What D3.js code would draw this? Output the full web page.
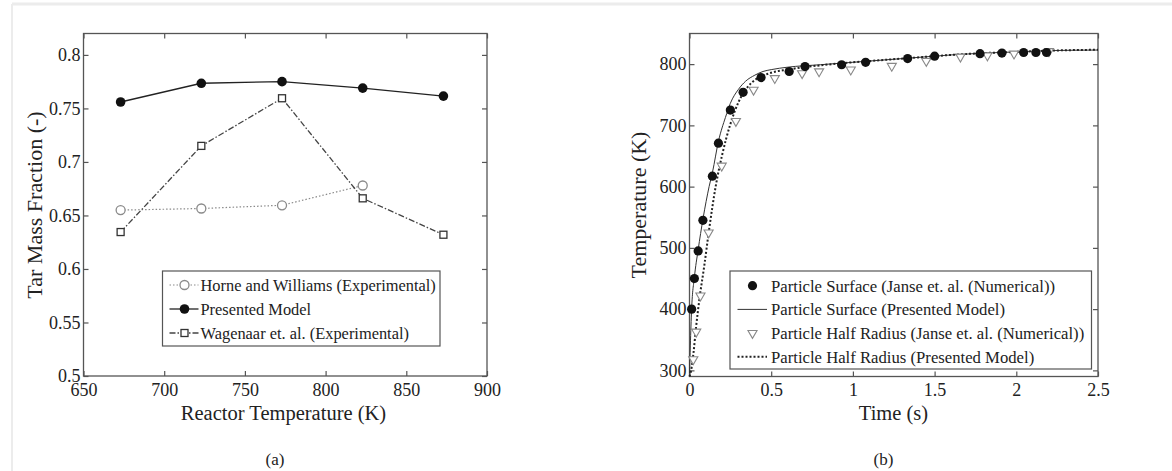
<!DOCTYPE html>
<head>
  <meta charset="utf-8" />
  <script src="https://d3js.org/d3.v7.min.js"></script>
  <style>
    body { margin: 0; background: #fff; }
    svg { display: block; }
    text { font-family: "Liberation Serif", "Times New Roman", serif; fill: #222; }
  </style>
</head>
<body>
<div id="fig"></div>
<script>

// ---- panel (a) data ----
var reactorTemps = [673, 723, 773, 823, 873];
var horneWilliams = [0.655, 0.6565, 0.6595, 0.678];
var presentedModel = [0.756, 0.7735, 0.775, 0.769, 0.7615];
var wagenaar = [0.6345, 0.715, 0.7595, 0.666, 0.632];
var aXTicks = [650, 700, 750, 800, 850, 900];
var aYTicks = [0.5, 0.55, 0.6, 0.65, 0.7, 0.75, 0.8];

// ---- panel (b) data ----
var surfJanseT = [0.013, 0.03, 0.053, 0.082, 0.14, 0.177, 0.25, 0.328, 0.438, 0.61, 0.707, 0.931, 1.078, 1.335, 1.5, 1.778, 1.912, 2.045, 2.12, 2.185];
var surfJanseK = [400, 450, 495, 545, 617, 671, 725, 754, 778, 788, 796, 799, 803, 809, 813, 817, 818, 819, 819, 819];
var halfJanseT = [0.023, 0.041, 0.067, 0.117, 0.197, 0.284, 0.392, 0.522, 0.689, 0.793, 0.987, 1.238, 1.449, 1.658, 1.823, 1.986, 2.2];
var halfJanseK = [318, 363, 422, 525, 634, 707, 758, 777, 785, 788, 791, 797, 805, 812, 814, 817, 821];
var surfModelT = [0, 0.005, 0.013, 0.03, 0.053, 0.083, 0.12, 0.141, 0.178, 0.22, 0.25, 0.3, 0.343, 0.4, 0.45, 0.5, 0.6, 0.8, 1.0, 1.2, 1.4, 1.6, 1.8, 2.0, 2.2, 2.5];
var surfModelK = [295, 340, 400, 452, 497, 548, 600, 624, 675, 713, 736, 759, 772, 782, 788, 791, 795, 799, 803, 807, 811, 815, 818, 820, 822, 823];
var halfModelT = [0, 0.01, 0.025, 0.04, 0.06, 0.09, 0.12, 0.16, 0.2, 0.25, 0.3, 0.36, 0.4, 0.45, 0.5, 0.6, 0.7, 0.8, 1.0, 1.2, 1.4, 1.6, 1.8, 2.0, 2.2, 2.5];
var halfModelK = [290, 300, 330, 370, 415, 470, 530, 600, 652, 702, 738, 764, 774, 781, 786, 791, 795, 798, 803, 807, 811, 815, 818, 820, 822, 823.5];
var bXTicks = [0, 0.5, 1, 1.5, 2, 2.5];
var bYTicks = [300, 400, 500, 600, 700, 800];

var W = 1172, H = 471;
var svg = d3.select("#fig").append("svg").attr("width", W).attr("height", H);

// faint scan frame
svg.append("line").attr("x1", 12).attr("x2", W).attr("y1", 4).attr("y2", 4)
  .attr("stroke", "#ececec").attr("stroke-width", 3);
svg.append("line").attr("x1", 12).attr("x2", 12).attr("y1", 4).attr("y2", H)
  .attr("stroke", "#ececec").attr("stroke-width", 2);

// draws box, inward ticks on all sides, tick labels
function drawFrame(x, y, xt, yt, fmtX, fmtY) {
  var g = svg.append("g");
  var x0 = x.range()[0], x1 = x.range()[1], y0 = y.range()[0], y1 = y.range()[1];
  var axes = [
    [d3.axisBottom(x).tickValues(xt).tickFormat(fmtX).tickPadding(7), "translate(0," + y0 + ")"],
    [d3.axisTop(x).tickValues(xt).tickFormat(""), "translate(0," + y1 + ")"],
    [d3.axisLeft(y).tickValues(yt).tickFormat(fmtY).tickPadding(3), "translate(" + x0 + ",0)"],
    [d3.axisRight(y).tickValues(yt).tickFormat(""), "translate(" + x1 + ",0)"]
  ];
  axes.forEach(function (a) {
    var ax = g.append("g").attr("transform", a[1])
      .call(a[0].tickSizeInner(-5).tickSizeOuter(0));
    ax.select(".domain").remove();
    ax.selectAll("line").attr("stroke", "#555").attr("stroke-width", 1.2);
    ax.selectAll("text").style("font-size", "18px").attr("fill", "#222")
      .style("font-family", '"Liberation Serif", "Times New Roman", serif');
  });
  g.append("rect").attr("x", x0).attr("y", y1).attr("width", x1 - x0).attr("height", y0 - y1)
    .attr("fill", "none").attr("stroke", "#555").attr("stroke-width", 1.3);
  return g;
}

function label(txt, x, y, size, rot) {
  var t = svg.append("text").attr("text-anchor", "middle").style("font-size", size + "px").text(txt);
  if (rot) t.attr("transform", "translate(" + x + "," + y + ") rotate(-90)");
  else t.attr("x", x).attr("y", y);
  return t;
}

// ===================== panel (a) =====================
var xa = d3.scaleLinear().domain([650, 900]).range([83.5, 487]);
var ya = d3.scaleLinear().domain([0.5, 0.82]).range([376, 33.5]);
drawFrame(xa, ya, aXTicks, aYTicks, d3.format("d"), function (d) { return +d.toFixed(2); });

var lineA = d3.line().x(function (d) { return xa(d[0]); }).y(function (d) { return ya(d[1]); });
var pa = svg.append("g");

var hwPts = horneWilliams.map(function (v, i) { return [reactorTemps[i], v]; });
var pmPts = presentedModel.map(function (v, i) { return [reactorTemps[i], v]; });
var wgPts = wagenaar.map(function (v, i) { return [reactorTemps[i], v]; });

pa.append("path").attr("d", lineA(hwPts)).attr("fill", "none").attr("stroke", "#8a8a8a")
  .attr("stroke-width", 1.2).attr("stroke-dasharray", "1.5,2");
pa.append("path").attr("d", lineA(pmPts)).attr("fill", "none").attr("stroke", "#222").attr("stroke-width", 1.3);
pa.append("path").attr("d", lineA(wgPts)).attr("fill", "none").attr("stroke", "#444")
  .attr("stroke-width", 1.3).attr("stroke-dasharray", "6,2,1.5,2");

pa.selectAll(".hw").data(hwPts).enter().append("circle")
  .attr("cx", function (d) { return xa(d[0]); }).attr("cy", function (d) { return ya(d[1]); })
  .attr("r", 4.5).attr("fill", "#fff").attr("stroke", "#8a8a8a").attr("stroke-width", 1.3);
pa.selectAll(".pm").data(pmPts).enter().append("circle")
  .attr("cx", function (d) { return xa(d[0]); }).attr("cy", function (d) { return ya(d[1]); })
  .attr("r", 4.8).attr("fill", "#111");
pa.selectAll(".wg").data(wgPts).enter().append("rect")
  .attr("x", function (d) { return xa(d[0]) - 3.5; }).attr("y", function (d) { return ya(d[1]) - 3.5; })
  .attr("width", 7).attr("height", 7).attr("fill", "#fff").attr("stroke", "#333").attr("stroke-width", 1.3);

// legend (a)
var legA = svg.append("g");
legA.append("rect").attr("x", 162.5).attr("y", 271).attr("width", 277.5).attr("height", 75)
  .attr("fill", "#fff").attr("stroke", "#555").attr("stroke-width", 1.2);
var legAItems = ["Horne and Williams (Experimental)", "Presented Model", "Wagenaar et. al. (Experimental)"];
legAItems.forEach(function (name, i) {
  var cy = 285 + i * 24, mx = 184.5;
  var ln = legA.append("line").attr("x1", 169.5).attr("x2", 198.5).attr("y1", cy).attr("y2", cy);
  if (i === 0) {
    ln.attr("stroke", "#8a8a8a").attr("stroke-width", 1.2).attr("stroke-dasharray", "1.5,2");
    legA.append("circle").attr("cx", mx).attr("cy", cy).attr("r", 4.5).attr("fill", "#fff").attr("stroke", "#8a8a8a").attr("stroke-width", 1.3);
  } else if (i === 1) {
    ln.attr("stroke", "#222").attr("stroke-width", 1.3);
    legA.append("circle").attr("cx", mx).attr("cy", cy).attr("r", 4.8).attr("fill", "#111");
  } else {
    ln.attr("stroke", "#444").attr("stroke-width", 1.3).attr("stroke-dasharray", "6,2,1.5,2");
    legA.append("rect").attr("x", mx - 3.5).attr("y", cy - 3.5).attr("width", 7).attr("height", 7).attr("fill", "#fff").attr("stroke", "#333").attr("stroke-width", 1.3);
  }
  legA.append("text").attr("x", 200.5).attr("y", cy).attr("dy", "0.35em").style("font-size", "16.4px").text(name);
});

label("Reactor Temperature (K)", 283.5, 420, 20.5);
label("Tar Mass Fraction (-)", 42, 205, 22, true);
label("(a)", 275, 465, 17);

// ===================== panel (b) =====================
var xb = d3.scaleLinear().domain([0, 2.5]).range([689.5, 1098]);
var yb = d3.scaleLinear().domain([290, 850]).range([376.5, 33.5]);
drawFrame(xb, yb, bXTicks, bYTicks, function (d) { return d; }, d3.format("d"));

var lineB = d3.line().x(function (d) { return xb(d[0]); }).y(function (d) { return yb(d[1]); }).curve(d3.curveMonotoneX);
var pb = svg.append("g");

var smPts = surfModelT.map(function (t, i) { return [t, surfModelK[i]]; });
var hmPts = halfModelT.map(function (t, i) { return [t, halfModelK[i]]; });
var sjPts = surfJanseT.map(function (t, i) { return [t, surfJanseK[i]]; });
var hjPts = halfJanseT.map(function (t, i) { return [t, halfJanseK[i]]; });

pb.append("path").attr("d", lineB(smPts)).attr("fill", "none").attr("stroke", "#333").attr("stroke-width", 1);
pb.append("path").attr("d", lineB(hmPts)).attr("fill", "none").attr("stroke", "#222")
  .attr("stroke-width", 2).attr("stroke-dasharray", "2,2");

var tri = d3.symbol().type(d3.symbolTriangle).size(36);
pb.selectAll(".hj").data(hjPts).enter().append("path")
  .attr("d", tri)
  .attr("transform", function (d) { return "translate(" + xb(d[0]) + "," + yb(d[1]) + ") rotate(180)"; })
  .attr("fill", "#fff").attr("stroke", "#888").attr("stroke-width", 1.1);
pb.selectAll(".sj").data(sjPts).enter().append("circle")
  .attr("cx", function (d) { return xb(d[0]); }).attr("cy", function (d) { return yb(d[1]); })
  .attr("r", 4.6).attr("fill", "#111");

// legend (b)
var legB = svg.append("g");
legB.append("rect").attr("x", 730).attr("y", 271).attr("width", 361.5).attr("height", 98)
  .attr("fill", "#fff").attr("stroke", "#555").attr("stroke-width", 1.2);
var legBItems = ["Particle Surface (Janse et. al. (Numerical))", "Particle Surface (Presented Model)",
  "Particle Half Radius (Janse et. al. (Numerical))", "Particle Half Radius (Presented Model)"];
legBItems.forEach(function (name, i) {
  var cy = 285.7 + i * 23.7, mx = 752.5;
  if (i === 0) {
    legB.append("circle").attr("cx", mx).attr("cy", cy).attr("r", 4.6).attr("fill", "#111");
  } else if (i === 1) {
    legB.append("line").attr("x1", 737.5).attr("x2", 767).attr("y1", cy).attr("y2", cy).attr("stroke", "#333").attr("stroke-width", 1);
  } else if (i === 2) {
    legB.append("path").attr("d", tri).attr("transform", "translate(" + mx + "," + cy + ") rotate(180)")
      .attr("fill", "#fff").attr("stroke", "#888").attr("stroke-width", 1.1);
  } else {
    legB.append("line").attr("x1", 737.5).attr("x2", 767).attr("y1", cy).attr("y2", cy)
      .attr("stroke", "#222").attr("stroke-width", 2).attr("stroke-dasharray", "2,2");
  }
  legB.append("text").attr("x", 771).attr("y", cy).attr("dy", "0.35em").style("font-size", "16.7px").text(name);
});

label("Time (s)", 893.5, 420, 20.5);
label("Temperature (K)", 646, 205, 22, true);
label("(b)", 883.5, 465, 17);

</script>
</body>
</html>
